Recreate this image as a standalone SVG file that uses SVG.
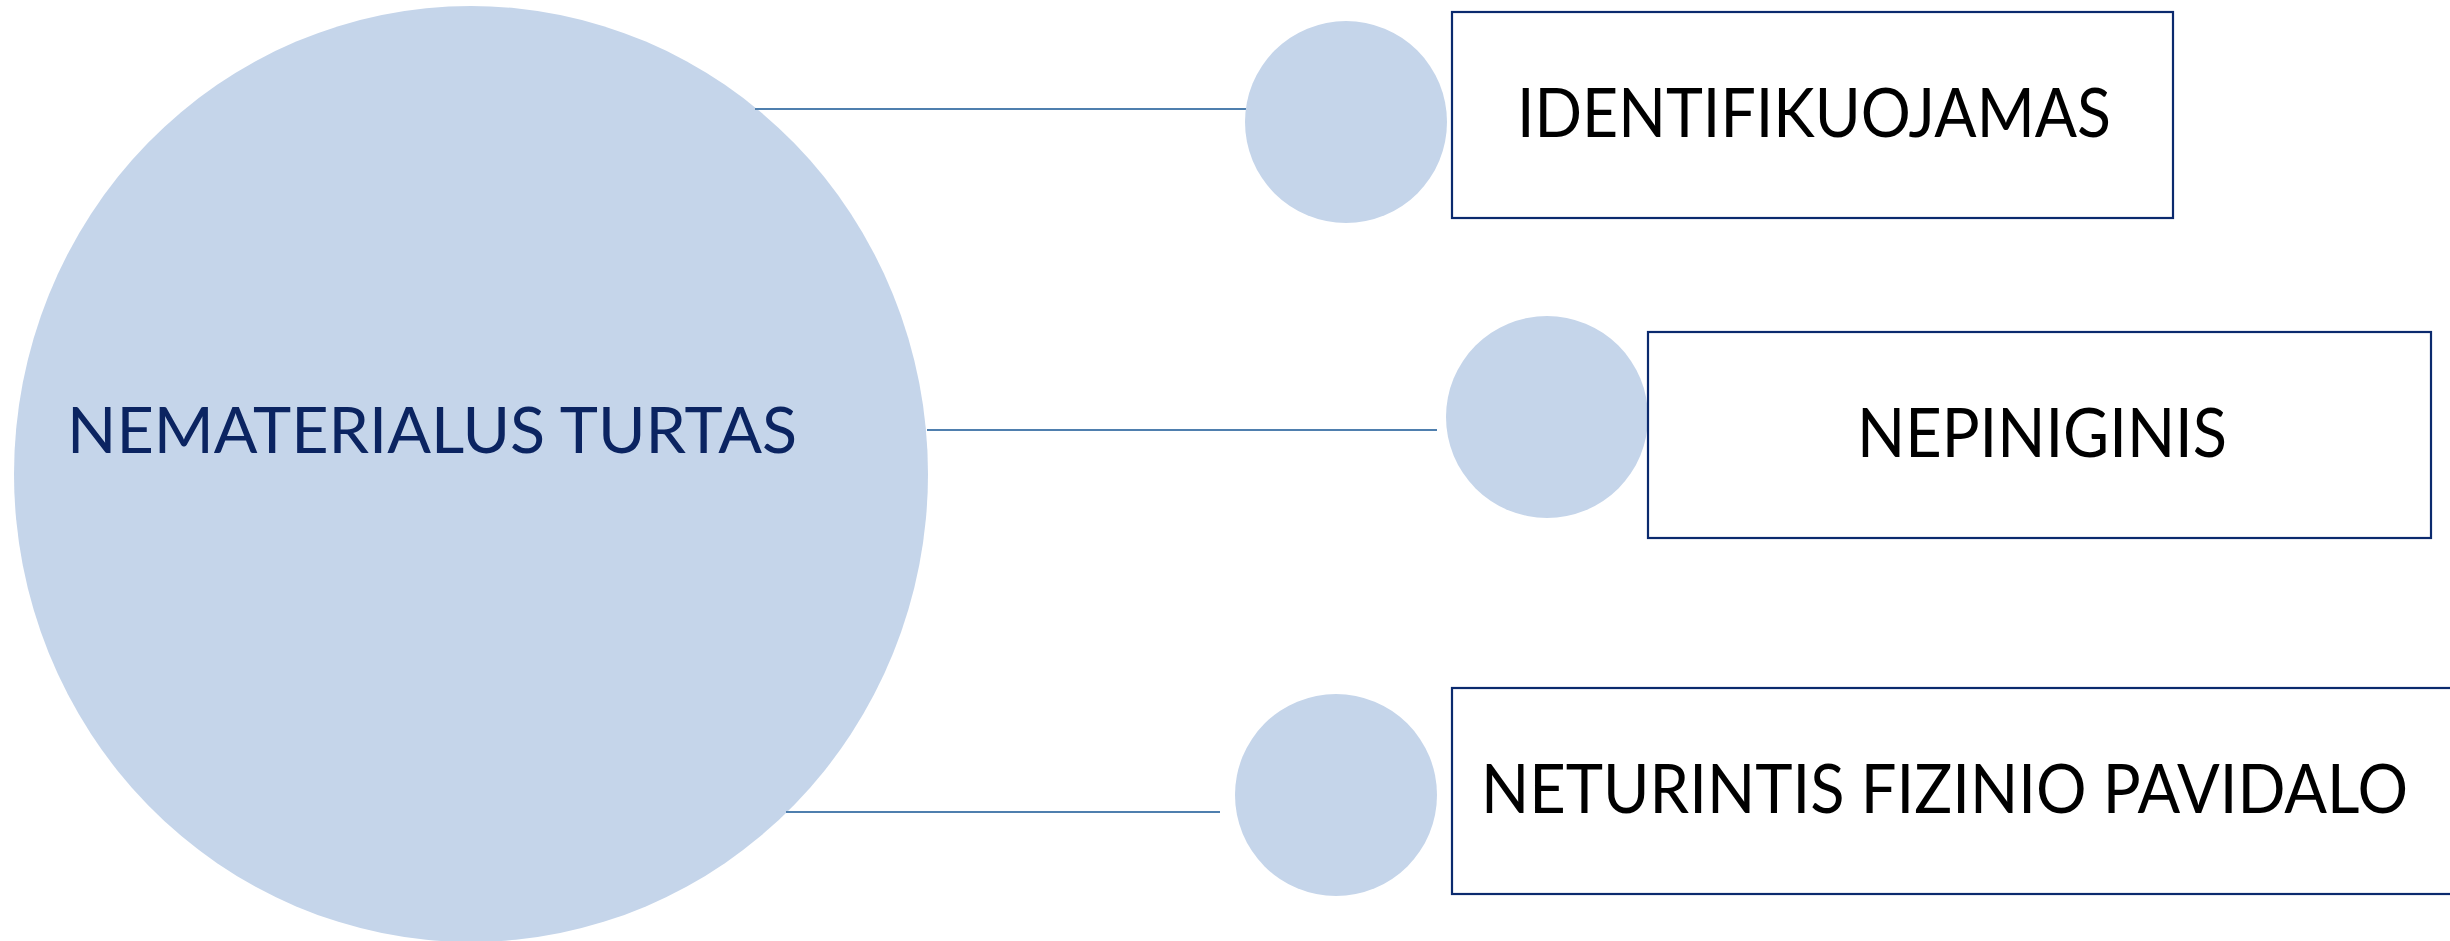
<svg xmlns="http://www.w3.org/2000/svg" width="2450" height="941" viewBox="0 0 2450 941">
<style>
.bub{fill:#c5d5ea;stroke:none}
.box{fill:#ffffff;stroke:#0b2a6e;stroke-width:2.2}
.lbl{font-family:Lato,"Open Sans","Liberation Sans",sans-serif;font-size:67px;fill:#000000}
.main{font-family:Lato,"Open Sans","Liberation Sans",sans-serif;font-size:64px;fill:#0b2461}
.conn{stroke:#4f7fae;stroke-width:2.2;fill:none}
</style>
<rect width="2450" height="941" fill="#ffffff"/>
<g id="main-node">
<ellipse class="bub" cx="471" cy="474" rx="457" ry="468"/>
<text class="main" x="67" y="453" textLength="730" lengthAdjust="spacingAndGlyphs">NEMATERIALUS TURTAS</text>
</g>
<g id="connectors">
<line class="conn" x1="755" y1="109" x2="1246" y2="109"/>
<line class="conn" x1="927" y1="430" x2="1437" y2="430"/>
<line class="conn" x1="786" y1="812" x2="1220" y2="812"/>
</g>
<g id="node-identifikuojamas">
<circle class="bub" cx="1346" cy="122" r="101"/>
<rect class="box" x="1452" y="12" width="721" height="206"/>
<text class="lbl" x="1517" y="137" textLength="594" lengthAdjust="spacingAndGlyphs">IDENTIFIKUOJAMAS</text>
</g>
<g id="node-nepiniginis">
<circle class="bub" cx="1547" cy="417" r="101"/>
<rect class="box" x="1648" y="332" width="783" height="206"/>
<text class="lbl" x="1857" y="457" textLength="370" lengthAdjust="spacingAndGlyphs">NEPINIGINIS</text>
</g>
<g id="node-neturintis">
<circle class="bub" cx="1336" cy="795" r="101"/>
<rect class="box" x="1452" y="688" width="1020" height="206"/>
<text class="lbl" x="1481" y="813" textLength="927" lengthAdjust="spacingAndGlyphs">NETURINTIS FIZINIO PAVIDALO</text>
</g>
</svg>
